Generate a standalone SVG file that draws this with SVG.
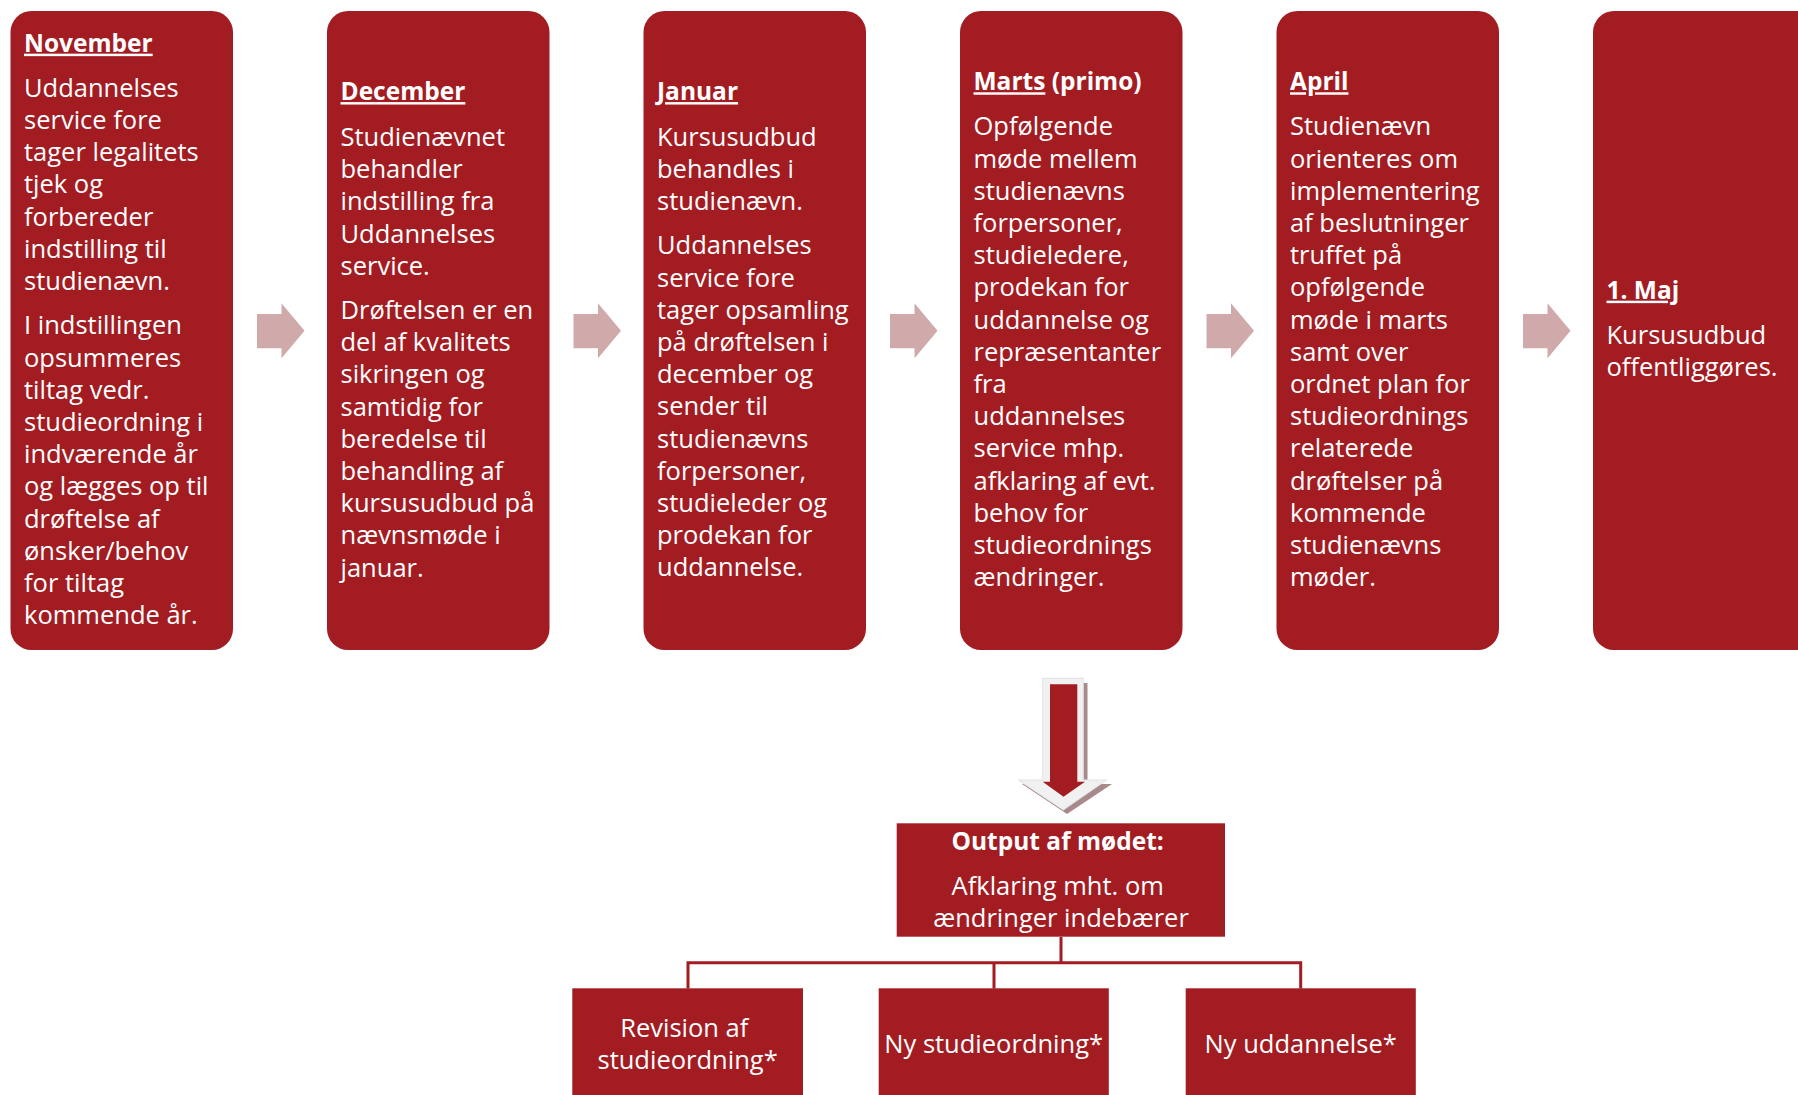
<svg xmlns="http://www.w3.org/2000/svg" width="1798" height="1095" viewBox="0 0 1798 1095">
<style>
.box{fill:#A21C22}
.t{font-family:"Open Sans","Liberation Sans",sans-serif;font-size:25.5px;fill:#ffffff}
.h{font-weight:bold;font-size:24.5px}
.u{text-decoration:underline}
.c{text-anchor:middle}
.arr{fill:#D0AAAB}
.ln{stroke:#A21C22;stroke-width:3;fill:none}
</style>
<rect width="1798" height="1095" fill="#ffffff"/>
<g id="connectors">
<polygon class="arr" points="257,314 281.5,314 281.5,303.3 304.5,330.8 281.5,358.3 281.5,348.3 257,348.3"/>
<polygon class="arr" transform="translate(316.5,0)" points="257,314 281.5,314 281.5,303.3 304.5,330.8 281.5,358.3 281.5,348.3 257,348.3"/>
<polygon class="arr" transform="translate(633,0)" points="257,314 281.5,314 281.5,303.3 304.5,330.8 281.5,358.3 281.5,348.3 257,348.3"/>
<polygon class="arr" transform="translate(949.5,0)" points="257,314 281.5,314 281.5,303.3 304.5,330.8 281.5,358.3 281.5,348.3 257,348.3"/>
<polygon class="arr" transform="translate(1266,0)" points="257,314 281.5,314 281.5,303.3 304.5,330.8 281.5,358.3 281.5,348.3 257,348.3"/>
<g id="down-arrow">
<polygon points="1047,683 1087.5,683 1087.5,784 1112,784 1067,814 1022,784 1047,784" fill="#A88A8C"/>
<polygon points="1042.7,678.3 1083.3,678.3 1083.3,780 1106.7,780 1063.3,810 1018.3,780 1042.7,780" fill="#F1F1F1" stroke="#E2E2E2" stroke-width="1"/>
<polygon points="1050,684.3 1077.3,684.3 1077.3,781.7 1085,781.7 1063.5,796.7 1042.7,781.7 1050,781.7" fill="#A21C22"/>
</g>
<path class="ln" d="M1061,937 V962.7 M688,962.7 H1300.7 M688,961.2 V988.5 M994,962.7 V988.5 M1300.7,961.2 V988.5"/>
</g>
<g id="november">
<rect class="box" x="10.5" y="11" width="222.5" height="639" rx="21"/>
<text class="t">
<tspan class="h u" x="24" y="51.7">November</tspan>
<tspan x="24" y="96.7">Uddannelses</tspan>
<tspan x="24" y="128.9">service fore</tspan>
<tspan x="24" y="161.1">tager legalitets</tspan>
<tspan x="24" y="193.3">tjek og</tspan>
<tspan x="24" y="225.5">forbereder</tspan>
<tspan x="24" y="257.7">indstilling til</tspan>
<tspan x="24" y="289.9">studienævn.</tspan>
<tspan x="24" y="334.3">I indstillingen</tspan>
<tspan x="24" y="366.5">opsummeres</tspan>
<tspan x="24" y="398.7">tiltag vedr.</tspan>
<tspan x="24" y="430.9">studieordning i</tspan>
<tspan x="24" y="463.1">indværende år</tspan>
<tspan x="24" y="495.3">og lægges op til</tspan>
<tspan x="24" y="527.5">drøftelse af</tspan>
<tspan x="24" y="559.7">ønsker/behov</tspan>
<tspan x="24" y="591.9">for tiltag</tspan>
<tspan x="24" y="624.1">kommende år.</tspan>
</text>
</g>
<g id="december">
<rect class="box" x="327" y="11" width="222.5" height="639" rx="21"/>
<text class="t">
<tspan class="h u" x="340.5" y="100.1">December</tspan>
<tspan x="340.5" y="145.9">Studienævnet</tspan>
<tspan x="340.5" y="178.1">behandler</tspan>
<tspan x="340.5" y="210.3">indstilling fra</tspan>
<tspan x="340.5" y="242.5">Uddannelses</tspan>
<tspan x="340.5" y="274.7">service.</tspan>
<tspan x="340.5" y="318.9">Drøftelsen er en</tspan>
<tspan x="340.5" y="351.1">del af kvalitets</tspan>
<tspan x="340.5" y="383.3">sikringen og</tspan>
<tspan x="340.5" y="415.5">samtidig for</tspan>
<tspan x="340.5" y="447.7">beredelse til</tspan>
<tspan x="340.5" y="479.9">behandling af</tspan>
<tspan x="340.5" y="512.1">kursusudbud på</tspan>
<tspan x="340.5" y="544.3">nævnsmøde i</tspan>
<tspan x="340.5" y="576.5">januar.</tspan>
</text>
</g>
<g id="januar">
<rect class="box" x="643.5" y="11" width="222.5" height="639" rx="21"/>
<text class="t">
<tspan class="h u" x="657" y="100.1">Januar</tspan>
<tspan x="657" y="145.9">Kursusudbud</tspan>
<tspan x="657" y="178.1">behandles i</tspan>
<tspan x="657" y="210.3">studienævn.</tspan>
<tspan x="657" y="254.3">Uddannelses</tspan>
<tspan x="657" y="286.5">service fore</tspan>
<tspan x="657" y="318.7">tager opsamling</tspan>
<tspan x="657" y="350.9">på drøftelsen i</tspan>
<tspan x="657" y="383.1">december og</tspan>
<tspan x="657" y="415.3">sender til</tspan>
<tspan x="657" y="447.5">studienævns</tspan>
<tspan x="657" y="479.7">forpersoner,</tspan>
<tspan x="657" y="511.9">studieleder og</tspan>
<tspan x="657" y="544.1">prodekan for</tspan>
<tspan x="657" y="576.3">uddannelse.</tspan>
</text>
</g>
<g id="marts">
<rect class="box" x="960" y="11" width="222.5" height="639" rx="21"/>
<text class="t">
<tspan class="h" x="973.5" y="90.3"><tspan class="u">Marts</tspan> (primo)</tspan>
<tspan x="973.5" y="135.3">Opfølgende</tspan>
<tspan x="973.5" y="167.5">møde mellem</tspan>
<tspan x="973.5" y="199.7">studienævns</tspan>
<tspan x="973.5" y="231.9">forpersoner,</tspan>
<tspan x="973.5" y="264.1">studieledere,</tspan>
<tspan x="973.5" y="296.3">prodekan for</tspan>
<tspan x="973.5" y="328.5">uddannelse og</tspan>
<tspan x="973.5" y="360.7">repræsentanter</tspan>
<tspan x="973.5" y="392.9">fra</tspan>
<tspan x="973.5" y="425.1">uddannelses</tspan>
<tspan x="973.5" y="457.3">service mhp.</tspan>
<tspan x="973.5" y="489.5">afklaring af evt.</tspan>
<tspan x="973.5" y="521.7">behov for</tspan>
<tspan x="973.5" y="553.9">studieordnings</tspan>
<tspan x="973.5" y="586.1">ændringer.</tspan>
</text>
</g>
<g id="april">
<rect class="box" x="1276.5" y="11" width="222.5" height="639" rx="21"/>
<text class="t">
<tspan class="h u" x="1290" y="90.3">April</tspan>
<tspan x="1290" y="135.3">Studienævn</tspan>
<tspan x="1290" y="167.5">orienteres om</tspan>
<tspan x="1290" y="199.7">implementering</tspan>
<tspan x="1290" y="231.9">af beslutninger</tspan>
<tspan x="1290" y="264.1">truffet på</tspan>
<tspan x="1290" y="296.3">opfølgende</tspan>
<tspan x="1290" y="328.5">møde i marts</tspan>
<tspan x="1290" y="360.7">samt over</tspan>
<tspan x="1290" y="392.9">ordnet plan for</tspan>
<tspan x="1290" y="425.1">studieordnings</tspan>
<tspan x="1290" y="457.3">relaterede</tspan>
<tspan x="1290" y="489.5">drøftelser på</tspan>
<tspan x="1290" y="521.7">kommende</tspan>
<tspan x="1290" y="553.9">studienævns</tspan>
<tspan x="1290" y="586.1">møder.</tspan>
</text>
</g>
<g id="maj">
<rect class="box" x="1593" y="11" width="260" height="639" rx="21"/>
<text class="t">
<tspan class="h u" x="1606.5" y="298.7">1. Maj</tspan>
<tspan x="1606.5" y="343.7">Kursusudbud</tspan>
<tspan x="1606.5" y="375.9">offentliggøres.</tspan>
</text>
</g>
<g id="output">
<rect class="box" x="896.7" y="823.3" width="328.3" height="113.4"/>
<text class="t c">
<tspan class="h" x="1061" y="849.5">Output af mødet:</tspan>
<tspan x="1061" y="895">Afklaring mht. om</tspan>
<tspan x="1061" y="926.5">ændringer indebærer</tspan>
</text>
</g>
<g id="revision">
<rect class="box" x="572.3" y="988.3" width="230.7" height="120"/>
<text class="t c">
<tspan x="687.6" y="1037">Revision af</tspan>
<tspan x="687.6" y="1069">studieordning*</tspan>
</text>
</g>
<g id="ny-studieordning">
<rect class="box" x="878.7" y="988.3" width="230.1" height="120"/>
<text class="t c" x="993.7" y="1053">Ny studieordning*</text>
</g>
<g id="ny-uddannelse">
<rect class="box" x="1185.7" y="988.3" width="230.1" height="120"/>
<text class="t c" x="1300.7" y="1053">Ny uddannelse*</text>
</g>
</svg>
